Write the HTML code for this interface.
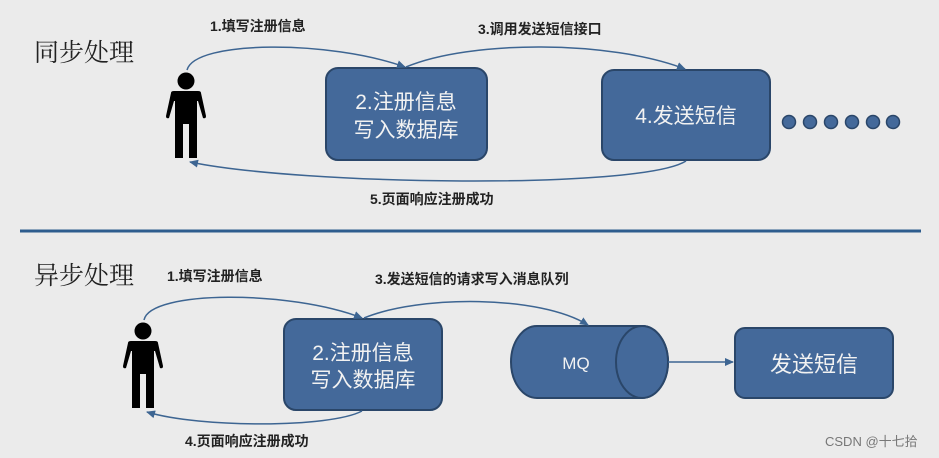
<!DOCTYPE html>
<html><head><meta charset="utf-8"><style>
html,body{margin:0;padding:0;background:#ebebeb;}
svg{display:block;}
text{font-family:"Liberation Sans","Noto Sans CJK SC",sans-serif;}
.lbl{font-size:14px;font-weight:bold;fill:#222;}
.title{font-family:"Noto Serif CJK SC","Noto Sans CJK SC",serif;font-size:25px;fill:#222;}
.bx{fill:#44699a;stroke:#2a4669;stroke-width:2;}
.bt{font-size:21px;fill:#f2f2f2;font-family:"Liberation Sans","Noto Sans CJK SC",sans-serif;}
.ln{fill:none;stroke:#3d6592;stroke-width:1.5;}
</style></head><body>
<svg width="939" height="458" viewBox="0 0 939 458" xmlns="http://www.w3.org/2000/svg">
<defs>
<marker id="a" markerWidth="10" markerHeight="10" refX="8" refY="5" orient="auto" markerUnits="userSpaceOnUse">
<path d="M0,1 L9,5 L0,9 z" fill="#3d6592"/></marker>
<g id="p">
<circle cx="21" cy="9" r="8.5" fill="#000"/>
<path d="M6,21 Q6,19 9,19 L33,19 Q36,19 36,21 L41,44 Q41,47 38,46 L33,29 L32,29 L32,86 L24,86 L24,52 L18,52 L18,86 L10,86 L10,29 L9,29 L4,46 Q1,47 1,44 Z" fill="#000"/>
</g>
</defs>

<text class="title" x="34" y="61">同步处理</text>
<use href="#p" x="165" y="72"/>
<rect class="bx" x="326" y="68" width="161" height="92" rx="12"/>
<text class="bt" x="406" y="109" text-anchor="middle">2.注册信息</text>
<text class="bt" x="406" y="137" text-anchor="middle">写入数据库</text>
<rect class="bx" x="602" y="70" width="168" height="90" rx="12"/>
<text class="bt" x="686" y="123" text-anchor="middle">4.发送短信</text>
<g fill="#44699a" stroke="#2a4669" stroke-width="1.5">
<circle cx="789" cy="122" r="6.5"/><circle cx="810" cy="122" r="6.5"/><circle cx="831" cy="122" r="6.5"/>
<circle cx="852" cy="122" r="6.5"/><circle cx="873" cy="122" r="6.5"/><circle cx="893" cy="122" r="6.5"/>
</g>
<path class="ln" d="M187,70 C195,40 330,40 405,67" marker-end="url(#a)"/>
<path class="ln" d="M406,67 C470,40 610,40 685,69" marker-end="url(#a)"/>
<path class="ln" d="M686,161 C640,190 300,185 190,162" marker-end="url(#a)"/>
<text class="lbl" x="210" y="31">1.填写注册信息</text>
<text class="lbl" x="478" y="34">3.调用发送短信接口</text>
<text class="lbl" x="370" y="204">5.页面响应注册成功</text>

<line x1="20" y1="231" x2="921" y2="231" stroke="#2e5d8e" stroke-width="3"/>

<text class="title" x="34" y="284">异步处理</text>
<use href="#p" x="122" y="322"/>
<rect class="bx" x="284" y="319" width="158" height="91" rx="12"/>
<text class="bt" x="363" y="360" text-anchor="middle">2.注册信息</text>
<text class="bt" x="363" y="387" text-anchor="middle">写入数据库</text>
<path class="bx" d="M537,326 L642,326 A26,36 0 0 1 642,398 L537,398 A26,36 0 0 1 537,326 Z"/>
<ellipse class="bx" cx="642" cy="362" rx="26" ry="36"/>
<text class="bt" x="576" y="369" text-anchor="middle" style="font-size:17px">MQ</text>
<path class="ln" d="M668,362 L733,362" marker-end="url(#a)"/>
<rect class="bx" x="735" y="328" width="158" height="70" rx="10"/>
<text class="bt" x="814" y="372" text-anchor="middle" style="font-size:22px">发送短信</text>
<path class="ln" d="M144,320 C150,290 290,290 362,318" marker-end="url(#a)"/>
<path class="ln" d="M364,318 C420,295 540,295 588,325" marker-end="url(#a)"/>
<path class="ln" d="M362,411 C330,428 200,428 147,412" marker-end="url(#a)"/>
<text class="lbl" x="167" y="281">1.填写注册信息</text>
<text class="lbl" x="375" y="284">3.发送短信的请求写入消息队列</text>
<text class="lbl" x="185" y="446">4.页面响应注册成功</text>
<text x="825" y="446" style="font-size:13px;fill:#777">CSDN @十七拾</text>
</svg>
</body></html>
